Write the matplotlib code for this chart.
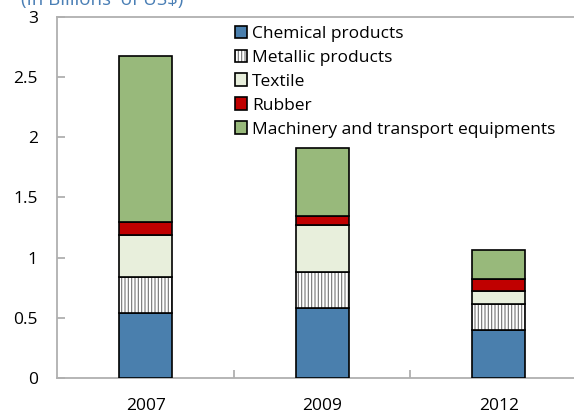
import matplotlib.pyplot as plt
import numpy as np

plt.rcParams['font.family'] = ['Open Sans', 'DejaVu Sans']
plt.rcParams['hatch.linewidth'] = 0.8

years = ['2007', '2009', '2012']
series = ['Chemical products', 'Metallic products', 'Textile', 'Rubber',
          'Machinery and transport equipments']
chemical = [0.54, 0.58, 0.40]
metallic = [0.30, 0.30, 0.215]
textile = [0.35, 0.39, 0.11]
rubber = [0.105, 0.078, 0.10]
machinery = [1.38, 0.565, 0.235]

colors = ['#4a7fad', 'white', '#e8efdc', '#c00000', '#98b97b']
hatches = [None, '|||||', None, None, None]

fig = plt.figure(figsize=(5.74, 4.16), dpi=100)
ax = fig.add_axes([0.0998, 0.0913, 0.923, 0.868])

x = np.arange(len(years))
bottom = np.zeros(len(years))
for name, vals, col, h in zip(series, [chemical, metallic, textile, rubber, machinery],
                              colors, hatches):
    ax.bar(x, vals, 0.3, bottom=bottom, color=col, edgecolor='black',
           linewidth=1.2, hatch=h, label=name, zorder=3)
    bottom += np.array(vals)

for b in ax.patches:
    if b.get_hatch():
        b._hatch_color = (0.45, 0.45, 0.45, 1)

ax.set_xlim(-0.5, 2.5)
ax.set_ylim(0, 3)
ax.set_yticks([0, 0.5, 1, 1.5, 2, 2.5, 3])
ax.set_yticklabels(['0', '0.5', '1', '1.5', '2', '2.5', '3'])
ax.set_xticks(x)
ax.set_xticklabels(years)
ax.set_xticks([0.5, 1.5], minor=True)

for s in ['left', 'bottom', 'top']:
    ax.spines[s].set_color('#b0b0b0')
    ax.spines[s].set_linewidth(1.3)
ax.spines['right'].set_visible(False)
ax.tick_params(axis='y', direction='in', length=6, color='#b0b0b0', width=1.3,
               labelsize=12.5, pad=14)
ax.tick_params(axis='x', which='major', length=0, labelsize=12.5, pad=14.5)
ax.tick_params(axis='x', which='minor', direction='in', length=6,
               color='#b0b0b0', width=1.3)

leg = ax.legend(loc='upper left', bbox_to_anchor=(0.315, 1.005), frameon=False,
                fontsize=12.5, handlelength=0.7, handleheight=0.7,
                handletextpad=0.3, labelspacing=0.45, borderaxespad=0.2)

fig.text(0.037, 0.988, '(In Billions  of US$)', color='#4a7fb5', fontsize=13.5,
         va='baseline')

fig.savefig('out.png', dpi=100)
